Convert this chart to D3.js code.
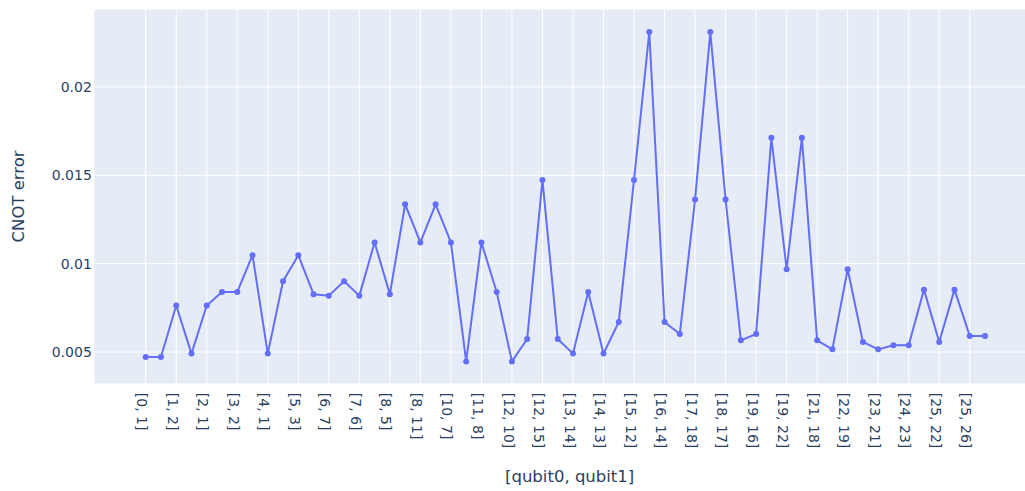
<!DOCTYPE html>
<html>
<head>
<meta charset="utf-8">
<script src="https://cdn.jsdelivr.net/npm/d3@7"></script>
<style>
  html, body { margin: 0; padding: 0; background: #fff; }
  svg { display: block; }
  text { font-family: "DejaVu Sans", Verdana, sans-serif; fill: #2a3f5f; }
</style>
</head>
<body>
<svg id="chart" width="1025" height="491"></svg>
<script>
// Qubit pairs (control, target) of each CNOT gate
const pairs = [
  "[0, 1]", "[1, 0]", "[1, 2]", "[1, 4]", "[2, 1]", "[2, 3]", "[3, 2]", "[3, 5]",
  "[4, 1]", "[4, 7]", "[5, 3]", "[5, 8]", "[6, 7]", "[7, 4]", "[7, 6]", "[7, 10]",
  "[8, 5]", "[8, 9]", "[8, 11]", "[9, 8]", "[10, 7]", "[10, 12]", "[11, 8]", "[11, 14]",
  "[12, 10]", "[12, 13]", "[12, 15]", "[13, 12]", "[13, 14]", "[14, 11]", "[14, 13]", "[14, 16]",
  "[15, 12]", "[15, 18]", "[16, 14]", "[16, 19]", "[17, 18]", "[18, 15]", "[18, 17]", "[18, 21]",
  "[19, 16]", "[19, 20]", "[19, 22]", "[20, 19]", "[21, 18]", "[21, 23]", "[22, 19]", "[22, 25]",
  "[23, 21]", "[23, 24]", "[24, 23]", "[24, 25]", "[25, 22]", "[25, 24]", "[25, 26]", "[26, 25]"
];

// CNOT error per pair
const cnotError = [
  0.00472, 0.00472, 0.00763, 0.00491, 0.00763, 0.00840, 0.00840, 0.01048,
  0.00491, 0.00900, 0.01048, 0.00827, 0.00819, 0.00900, 0.00819, 0.01120,
  0.00827, 0.01336, 0.01120, 0.01336, 0.01120, 0.00447, 0.01120, 0.00840,
  0.00447, 0.00574, 0.01474, 0.00574, 0.00491, 0.00840, 0.00491, 0.00670,
  0.01474, 0.02310, 0.00670, 0.00602, 0.01363, 0.02310, 0.01363, 0.00566,
  0.00602, 0.01712, 0.00968, 0.01712, 0.00566, 0.00515, 0.00968, 0.00557,
  0.00515, 0.00538, 0.00538, 0.00853, 0.00557, 0.00853, 0.00591, 0.00591
];

const yTicks = [0.005, 0.01, 0.015, 0.02];
const xTitle = "[qubit0, qubit1]";
const yTitle = "CNOT error";

// Plot area
const plot = { left: 94.3, top: 9.5, right: 1045, bottom: 383.3 };
const step = 15.26;
const firstX = 145.7;
const tickFont = 14;
const titleFont = 16.5;

const svg = d3.select("#chart");

const x = d3.scalePoint()
  .domain(pairs)
  .range([firstX, firstX + step * (pairs.length - 1)]);

const y = d3.scaleLinear()
  .domain([0.00323, 0.02438])
  .range([plot.bottom, plot.top]);

// Background
svg.append("rect")
  .attr("x", plot.left).attr("y", plot.top)
  .attr("width", plot.right - plot.left)
  .attr("height", plot.bottom - plot.top)
  .attr("fill", "#e5ecf6");

const xTickVals = pairs.filter((d, i) => i % 2 === 0);

// Grid lines
const grid = svg.append("g");
grid.selectAll("line.v").data(xTickVals).join("line")
  .attr("class", "v")
  .attr("x1", d => x(d)).attr("x2", d => x(d))
  .attr("y1", plot.top).attr("y2", plot.bottom)
  .attr("stroke", "#fff").attr("stroke-width", 1);
grid.selectAll("line.h").data(yTicks).join("line")
  .attr("class", "h")
  .attr("x1", plot.left).attr("x2", plot.right)
  .attr("y1", d => y(d)).attr("y2", d => y(d))
  .attr("stroke", "#fff").attr("stroke-width", 1);

// Y axis labels
const yAxis = svg.append("g")
  .attr("transform", `translate(${plot.left - 2.5},0)`)
  .call(d3.axisLeft(y).tickValues(yTicks).tickSize(0).tickPadding(0).tickFormat(d3.format("")));
yAxis.select(".domain").remove();
yAxis.selectAll("text")
  .attr("font-size", tickFont)
  .style("font-family", '"DejaVu Sans", Verdana, sans-serif')
  .attr("fill", "#2a3f5f");

// X axis labels, rotated
const xAxis = svg.append("g")
  .attr("transform", `translate(0,${plot.bottom})`)
  .call(d3.axisBottom(x).tickValues(xTickVals).tickSize(0).tickPadding(0));
xAxis.select(".domain").remove();
xAxis.selectAll("text")
  .attr("font-size", tickFont)
  .style("font-family", '"DejaVu Sans", Verdana, sans-serif')
  .attr("fill", "#2a3f5f")
  .attr("text-anchor", "start")
  .attr("y", null)
  .attr("transform", "translate(-4,9.5) rotate(90)")
  .attr("dy", "0.35em");

// Line and markers
const line = d3.line()
  .x((d, i) => x(pairs[i]))
  .y(d => y(d));

svg.append("path")
  .datum(cnotError)
  .attr("d", line)
  .attr("fill", "none")
  .attr("stroke", "#636efa")
  .attr("stroke-width", 2)
  .attr("stroke-linejoin", "round");

svg.append("g").selectAll("circle").data(cnotError).join("circle")
  .attr("cx", (d, i) => x(pairs[i]))
  .attr("cy", d => y(d))
  .attr("r", 3)
  .attr("fill", "#636efa");

// Axis titles
svg.append("text")
  .attr("x", (plot.left + plot.right) / 2)
  .attr("y", 482)
  .attr("text-anchor", "middle")
  .attr("font-size", titleFont)
  .text(xTitle);

svg.append("text")
  .attr("transform", `translate(24.3,${(plot.top + plot.bottom) / 2}) rotate(-90)`)
  .attr("text-anchor", "middle")
  .attr("font-size", titleFont)
  .text(yTitle);
</script>
</body>
</html>
